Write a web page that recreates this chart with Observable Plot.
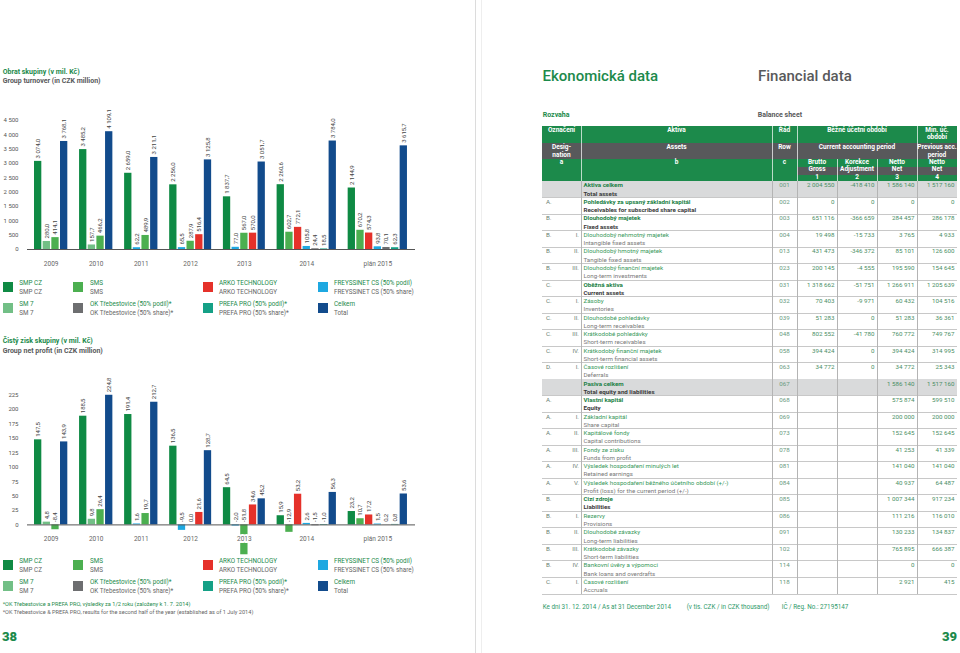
<!DOCTYPE html>
<html><head><meta charset="utf-8">
<script src="https://cdn.jsdelivr.net/npm/d3@7"></script>
<script src="https://cdn.jsdelivr.net/npm/@observablehq/plot@0.6"></script>
<style>
html,body{margin:0;padding:0;background:#fff;}
body{width:960px;height:653px;position:relative;overflow:hidden;font-family:Roboto,"Noto Sans",sans-serif;}
.abs{position:absolute;white-space:nowrap;}
.chart{position:absolute;left:0;}
.chart svg{overflow:visible;}
</style></head><body>
<script>
// ---------- DATA ----------
const years = ["2009", "2010", "2011", "2012", "2013", "2014", "plán 2015"];
const companyKeys = ["SMP CZ", "SM 7", "SMS", "ARKO TECHNOLOGY", "FREYSSINET CS", "OK Třebestovice", "PREFA PRO", "Celkem"];
const barCompanies = [
  ["SMP CZ", "SM 7", "SMS", "Celkem"],
  ["SMP CZ", "SM 7", "SMS", "Celkem"],
  ["SMP CZ", "FREYSSINET CS", "SMS", "Celkem"],
  ["SMP CZ", "FREYSSINET CS", "SMS", "ARKO TECHNOLOGY", "Celkem"],
  ["SMP CZ", "FREYSSINET CS", "SMS", "ARKO TECHNOLOGY", "Celkem"],
  ["SMP CZ", "SMS", "ARKO TECHNOLOGY", "FREYSSINET CS", "OK Třebestovice", "PREFA PRO", "Celkem"],
  ["SMP CZ", "SMS", "ARKO TECHNOLOGY", "FREYSSINET CS", "OK Třebestovice", "PREFA PRO", "Celkem"]
];
const turnover = [
  [3074.0, 280.0, 414.1, 3768.1],
  [3485.2, 157.7, 466.2, 4109.1],
  [2659.0, 62.2, 489.9, 3211.1],
  [2256.0, 65.5, 287.9, 516.4, 3125.8],
  [1837.7, 77.0, 567.0, 570.0, 3051.7],
  [2260.6, 602.7, 772.1, 105.8, 24.4, 18.5, 3784.0],
  [2144.9, 670.2, 574.3, 93.8, 70.1, 62.3, 3615.7]
];
const netProfit = [
  [147.5, 4.8, -8.4, 143.9],
  [188.5, 9.8, 26.4, 224.8],
  [191.4, 1.6, 19.7, 212.7],
  [136.5, -9.5, 0, 21.6, 128.7],
  [64.5, -2.0, -51.8, 34.6, 45.2],
  [15.9, -12.9, 53.2, 2.6, -1.5, -1.0, 56.3],
  [23.2, 10.7, 17.2, 1.5, 0.2, 0.8, 53.6]
];
const turnoverTicks = [0, 500, 1000, 1500, 2000, 2500, 3000, 3500, 4000, 4500];
const profitTicks = [0, 25, 50, 75, 100, 125, 150, 175, 200, 225];

const legendKeys = ["SMP CZ", "SMS", "ARKO TECHNOLOGY", "FREYSSINET CS", "SM 7", "OK Třebestovice", "PREFA PRO", "Celkem"];
const legendCz = ["SMP CZ", "SMS", "ARKO TECHNOLOGY", "FREYSSINET CS (50% podíl)", "SM 7", "OK Třebestovice (50% podíl)*", "PREFA PRO (50% podíl)*", "Celkem"];
const legendEn = ["SMP CZ", "SMS", "ARKO TECHNOLOGY", "FREYSSINET CS (50% share)", "SM 7", "OK Třebestovice (50% share)*", "PREFA PRO (50% share)*", "Total"];

// Balance sheet
const rowLetters = ["", "A.", "B.", "B.", "B.", "B.", "C.", "C.", "C.", "C.", "C.", "D.", "", "A.", "A.", "A.", "A.", "A.", "A.", "B.", "B.", "B.", "B.", "B.", "C."];
const rowRomans = ["", "", "", "I.", "II.", "III.", "", "I.", "II.", "III.", "IV.", "I.", "", "", "I.", "II.", "III.", "IV.", "V.", "", "I.", "II.", "III.", "IV.", "I."];
const rowCz = ["Aktiva celkem", "Pohledávky za upsaný základní kapitál", "Dlouhodobý majetek", "Dlouhodobý nehmotný majetek", "Dlouhodobý hmotný majetek", "Dlouhodobý finanční majetek", "Oběžná aktiva", "Zásoby", "Dlouhodobé pohledávky", "Krátkodobé pohledávky", "Krátkodobý finanční majetek", "Časové rozlišení", "Pasiva celkem", "Vlastní kapitál", "Základní kapitál", "Kapitálové fondy", "Fondy ze zisku", "Výsledek hospodaření minulých let", "Výsledek hospodaření běžného účetního období (+/-)", "Cizí zdroje", "Rezervy", "Dlouhodobé závazky", "Krátkodobé závazky", "Bankovní úvěry a výpomoci", "Časové rozlišení"];
const rowEn = ["Total assets", "Receivables for subscribed share capital", "Fixed assets", "Intangible fixed assets", "Tangible fixed assets", "Long-term investments", "Current assets", "Inventories", "Long-term receivables", "Short-term receivables", "Short-term financial assets", "Deferrals", "Total equity and liabilities", "Equity", "Share capital", "Capital contributions", "Funds from profit", "Retained earnings", "Profit (loss) for the current period (+/-)", "Liabilities", "Provisions", "Long-term liabilities", "Short-term liabilities", "Bank loans and overdrafts", "Accruals"];
const rowCodes = ["001", "002", "003", "004", "013", "023", "031", "032", "039", "048", "058", "063", "067", "068", "069", "073", "078", "081", "084", "085", "086", "091", "102", "114", "118"];
const grossValues = [2004550, 0, 651116, 19498, 431473, 200145, 1318662, 70403, 51283, 802552, 394424, 34772, null, null, null, null, null, null, null, null, null, null, null, null, null];
const adjustValues = [-418410, 0, -366659, -15733, -346372, -4555, -51751, -9971, 0, -41780, 0, 0, null, null, null, null, null, null, null, null, null, null, null, null, null];
const netValues = [1586140, 0, 284457, 3765, 85101, 195590, 1266911, 60432, 51283, 760772, 394424, 34772, 1586140, 575874, 200000, 152645, 41253, 141040, 40937, 1007344, 111216, 130233, 765895, 0, 2921];
const prevValues = [1517160, 0, 286178, 4933, 126600, 154645, 1205639, 104516, 36361, 749767, 314995, 25343, 1517160, 599510, 200000, 152645, 41339, 141040, 64487, 917234, 116010, 134837, 666387, 0, 415];
const boldRows = [0, 1, 2, 6, 12, 13, 19];
const shadedRows = [0, 12];

// ---------- STYLE ----------
const companyColors = ["#0f8a44", "#72bf86", "#4caf50", "#e5312a", "#1ea8e1", "#6d6e70", "#15a086", "#124b8c"];
const GREEN = "#1c8a4b", GRAY = "#58595b";
const loc = d3.formatLocale({decimal: ",", thousands: " ", grouping: [3], currency: ["", ""], minus: "-"});
const fmt1 = loc.format(",.1f"), fmtInt = loc.format(",d");

function el(x, y, html, css) {
  const d = document.createElement("div");
  d.className = "abs";
  d.style.left = x + "px"; d.style.top = y + "px";
  d.innerHTML = html;
  Object.assign(d.style, css || {});
  document.body.appendChild(d);
  return d;
}
function box(x0, y0, x1, y1, bg) {
  return el(x0, y0, "", {width: (x1 - x0) + "px", height: (y1 - y0) + "px", background: bg});
}

// ---------- CHARTS ----------
const GAP = 1.2;
function buildBars(values) {
  const bars = [], groups = [];
  let slot = 0;
  years.forEach((yr, i) => {
    const start = slot;
    barCompanies[i].forEach((c, j) => { bars.push({year: yr, company: c, value: values[i][j], slot}); slot += 1; });
    groups.push({year: yr, center: (start + slot) / 2});
    slot += GAP;
  });
  return {bars, groups, end: slot - GAP};
}
function chart(values, top, height, yDomain, mt, mb, ticks) {
  const {bars, groups, end} = buildBars(values);
  const p = Plot.plot({
    width: 470, height, marginLeft: 27, marginRight: 55, marginTop: mt, marginBottom: mb,
    x: {domain: [-0.73, end + 0.85], axis: null},
    y: {domain: yDomain, ticks, tickSize: 0, tickPadding: 9, tickFormat: fmtInt, label: null},
    color: {domain: companyKeys, range: companyColors},
    style: {fontSize: "6px", fontFamily: "Roboto", color: "#555", background: "transparent", overflow: "visible"},
    marks: [
      Plot.rect(bars, {x1: "slot", x2: d => d.slot + 1, y1: 0, y2: "value", fill: "company", insetLeft: 0.68, insetRight: 0.68}),
      Plot.ruleY([0], {stroke: "#555", strokeWidth: 1}),
      Plot.text(bars, {x: d => d.slot + 0.5, y: d => Math.max(0, d.value), text: d => fmt1(d.value), rotate: -90, textAnchor: "start", lineAnchor: "middle", dy: -3, fill: "#444", fontSize: 6}),
      Plot.text(groups, {x: "center", y: 0, text: "year", dy: 14, fill: "#666", stroke: "white", strokeWidth: 4, fontSize: 6.5})
    ]
  });
  const wrap = document.createElement("div");
  wrap.className = "chart";
  wrap.style.top = top + "px";
  wrap.appendChild(p);
  document.body.appendChild(wrap);
}

// Titles
el(2.7, 67.5, "Obrat skupiny (v mil. Kč)", {fontSize: "7px", fontWeight: "700", color: GREEN, lineHeight: "9px"});
el(2.7, 76.5, "Group turnover (in CZK million)", {fontSize: "7px", fontWeight: "700", color: GRAY, lineHeight: "9px"});
el(2.7, 337.3, "Čistý zisk skupiny (v mil. Kč)", {fontSize: "7px", fontWeight: "700", color: GREEN, lineHeight: "9px"});
el(2.7, 346.8, "Group net profit (in CZK million)", {fontSize: "7px", fontWeight: "700", color: GRAY, lineHeight: "9px"});

chart(turnover, 95, 175, [0, 4500], 25, 21, turnoverTicks);
chart(netProfit, 365, 200, [-60, 240], 21, 6, profitTicks);

function legend(top) {
  const sx = [2.7, 73, 203, 318], tx = [19.3, 90, 219, 334], rowDy = [0, 21];
  legendKeys.forEach((k, i) => {
    const c = i % 4, r = Math.floor(i / 4);
    const y = top + rowDy[r];
    box(sx[c], y, sx[c] + 10, y + 10, companyColors[companyKeys.indexOf(k)]);
    el(tx[c], y - 3, `<span style="color:${GREEN}">${legendCz[i]}</span><br><span style="color:#666">${legendEn[i]}</span>`, {fontSize: "6.3px", lineHeight: "8.6px"});
  });
}
legend(282);
legend(560.2);

el(2.7, 600, `<span style="color:${GREEN}">*OK Třebestovice a PREFA PRO, výsledky za 1/2 roku (založeny k 1. 7. 2014)</span><br><span style="color:#666">*OK Třebestovice &amp; PREFA PRO, results for the second half of the year (established as of 1 July 2014)</span>`, {fontSize: "5.6px", lineHeight: "8.3px"});
el(2, 629, "38", {fontSize: "13px", fontWeight: "900", color: GREEN, lineHeight: "16px"});
el(930, 629, "39", {fontSize: "13px", fontWeight: "900", color: GREEN, lineHeight: "16px", width: "27px", textAlign: "right"});

// gutter
box(475, 0, 476, 653, "#dcdcdc");
box(481, 0, 482, 653, "#eeeeee");

// Right page headings
el(542.5, 66.5, "Ekonomická data", {fontSize: "15px", fontWeight: "500", color: GREEN, lineHeight: "19px"});
el(758, 66.5, "Financial data", {fontSize: "15px", fontWeight: "500", color: GRAY, lineHeight: "19px"});
el(542.7, 110.5, "Rozvaha", {fontSize: "7px", fontWeight: "700", color: GREEN, lineHeight: "9px"});
el(757.7, 110.5, "Balance sheet", {fontSize: "7px", fontWeight: "700", color: GRAY, lineHeight: "9px"});

// ---------- TABLE ----------
const X = {a: 542, r: 562, b: 581, c: 772, c1: 797, c2: 837, c3: 877, c4: 917, end: 957};
const H1 = 125.5, H2 = 142.5, H3 = 158.5, B0 = 181, RH = 16.52;
box(X.a, H1, X.end, H2, GREEN);
box(X.a, H2, X.end, H3, GRAY);
box(X.a, H3, X.end, B0, GREEN);
box(X.c1, 167.3, X.end, 174.6, GRAY);
function hcell(x0, x1, y, html) {
  el(x0, y, html, {width: (x1 - x0) + "px", textAlign: "center", color: "#fff", fontWeight: "700", fontSize: "6.5px", lineHeight: "7.5px", whiteSpace: "normal"});
}
hcell(X.a, X.b, 126.5, "Označení");
hcell(X.b, X.c, 126.5, "Aktiva");
hcell(X.c, X.c1, 126.5, "Řád");
hcell(X.c1, X.c4, 126.5, "Běžné účetní období");
hcell(X.c4, X.end, 126.5, "Min. úč.<br>období");
hcell(X.a, X.b, 144, "Desig-<br>nation");
hcell(X.b, X.c, 144, "Assets");
hcell(X.c, X.c1, 144, "Row");
hcell(X.c1, X.c4, 144, "Current accounting period");
hcell(X.c4, X.end, 144, "Previous acc.<br>period");
hcell(X.a, X.b, 158.8, "a");
hcell(X.b, X.c, 158.8, "b");
hcell(X.c, X.c1, 158.8, "c");
hcell(X.c1, X.c2, 158.8, "Brutto<br>Gross<br>1");
hcell(X.c2, X.c3, 158.8, "Korekce<br>Adjustment<br>2");
hcell(X.c3, X.c4, 158.8, "Netto<br>Net<br>3");
hcell(X.c4, X.end, 158.8, "Netto<br>Net<br>4");
[X.b, X.c, X.c1, X.c4].forEach(x => box(x - 0.5, H1, x + 0.5, B0, "rgba(255,255,255,0.7)"));
[X.c2, X.c3].forEach(x => box(x - 0.5, H3, x + 0.5, B0, "rgba(255,255,255,0.7)"));

const B_END = B0 + RH * rowCz.length;
const fmtT = loc.format(",d");
rowCz.forEach((cz, i) => {
  const y = B0 + i * RH;
  const bold = boldRows.includes(i);
  if (shadedRows.includes(i)) box(X.a, y, X.end, y + RH, "#d9dadb");
  box(X.a, y + RH - 0.5, X.end, y + RH + 0.5, "#c8c8c8");
  const base = {fontSize: "6.2px", lineHeight: "8.2px"};
  el(546, y + 0.4, rowLetters[i], {...base, color: "#6a7f72"});
  el(X.a, y + 0.4, rowRomans[i], {...base, color: "#6a7f72", width: (579 - X.a) + "px", textAlign: "right"});
  el(583.5, y + 0.4,
     `<span style="color:${bold ? "#1a7f45" : "#3a9a5c"};font-weight:${bold ? 700 : 400}">${cz}</span><br><span style="color:${bold ? "#3a3a3a" : "#7a7a7a"};font-weight:${bold ? 700 : 400}">${rowEn[i]}</span>`,
     base);
  el(X.c, y + 0.4, rowCodes[i], {...base, color: "#6a9a7e", width: (X.c1 - X.c) + "px", textAlign: "center"});
  const vals = [grossValues[i], adjustValues[i], netValues[i], prevValues[i]];
  const cols = [[X.c1, X.c2], [X.c2, X.c3], [X.c3, X.c4], [X.c4, X.end]];
  vals.forEach((v, k) => {
    if (v === null) return;
    el(cols[k][0], y + 0.4, fmtT(v), {...base, color: "#4a8f66", width: (cols[k][1] - cols[k][0] - 2.5) + "px", textAlign: "right"});
  });
});
[X.b, X.c, X.c1, X.c2, X.c3, X.c4].forEach(x => box(x - 0.5, B0, x + 0.5, B_END, "#b4b4b4"));

el(542.7, 602.5, "Ke dni 31. 12. 2014 / As at 31 December 2014", {fontSize: "6.3px", color: "#2f9a6a", lineHeight: "8.4px"});
el(686.7, 602.5, "(v tis. CZK / in CZK thousand)", {fontSize: "6.3px", color: "#2f9a6a", lineHeight: "8.4px"});
el(781.7, 602.5, "IČ / Reg. No.: 27195147", {fontSize: "6.3px", color: "#2f9a6a", lineHeight: "8.4px"});
</script>
</body></html>
